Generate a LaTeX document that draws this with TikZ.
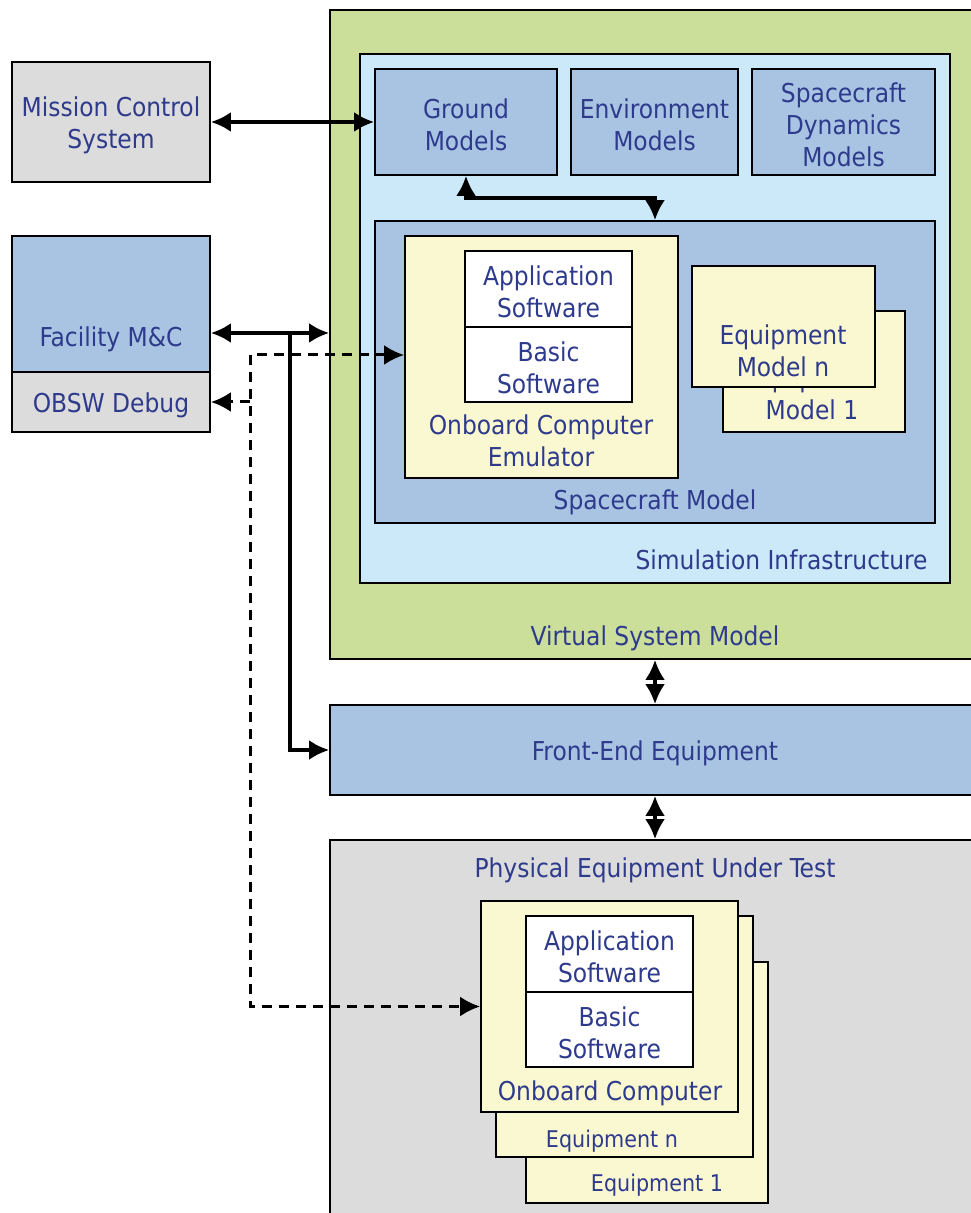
\documentclass[tikz,border=0pt]{standalone}
\usepackage{fontspec}
\setmainfont{DejaVu Sans Condensed}
\usetikzlibrary{arrows.meta,fit}
\definecolor{txtblue}{RGB}{46,58,140}
\definecolor{vsmgreen}{RGB}{204,223,154}
\definecolor{infblue}{RGB}{204,233,250}
\definecolor{midblue}{RGB}{168,196,226}
\definecolor{eqyellow}{RGB}{250,248,208}
\definecolor{boxgrey}{RGB}{220,220,220}

\begin{document}
\begin{tikzpicture}[x=0.5pt,y=-0.5pt,>={Latex[length=10pt,width=10pt]},
 box/.style={draw,line width=0.9pt,inner sep=0pt},
 txt/.style={text=txtblue,align=center,inner sep=0pt,yshift=-1.5pt},
 boxtxt/.style={label={[txt]center:#1}},
 small/.style={font=\fontsize{11.5}{14}\selectfont},
 link/.style={line width=1.7pt},
 dbglink/.style={line width=1.5pt,dash pattern=on 5pt off 3.5pt},
 font=\fontsize{13}{16}\selectfont]
 \useasboundingbox (0,0) rectangle (970,1213);

 % left side
 \node[box,fill=boxgrey,fit={(12,62) (210,182)},boxtxt={Mission Control\\System}] (mcs) {};
 \node[box,fill=midblue,fit={(12,236) (210,372)}] (fac) {};
 \node[box,fill=boxgrey,fit={(12,372) (210,432)},boxtxt={OBSW Debug}] (dbg) {};
 \node[txt] (faclbl) at (111,336) {Facility M\&C};

 % virtual system model
 \node[box,fill=vsmgreen,fit={(330,10) (976,659)}] (vsm) {};
 \node[txt] (vsmlbl) at (655,635) {Virtual System Model};
 \node[box,fill=infblue,fit={(360,54) (950,583)}] (infra) {};
 \node[txt,anchor=east] (infralbl) at (928,557) {Simulation Infrastructure};
 \node[box,fill=midblue,fit={(375,69) (557,175)},boxtxt={Ground\\Models}] (ground) {};
 \node[box,fill=midblue,fit={(571,69) (738,175)},boxtxt={Environment\\Models}] (env) {};
 \node[box,fill=midblue,fit={(752,69) (935,175)},boxtxt={Spacecraft\\Dynamics\\Models}] (dyn) {};
 \node[box,fill=midblue,fit={(375,221) (935,523)}] (scm) {};
 \node[txt] (scmlbl) at (655,499) {Spacecraft Model};
 \node[box,fill=eqyellow,fit={(405,236) (678,478)}] (emu) {};
 \node[txt] (emulbl) at (541,438) {Onboard Computer\\Emulator};
 \node[box,fill=white,fit={(465,251) (632,327)},boxtxt={Application\\Software}] (emuapp) {};
 \node[box,fill=white,fit={(465,327) (632,402)},boxtxt={Basic\\Software}] (emubsw) {};
 \node[box,fill=eqyellow,fit={(723,311) (905,432)}] (eqm1) {};
 \node[txt] (eqm1lbl) at (812,391) {Equipment\\Model 1};
 \node[box,fill=eqyellow,fit={(692,266) (875,387)}] (eqmn) {};
 \node[txt] (eqmnlbl) at (783,348) {Equipment\\Model n};

 % front end and hardware
 \node[box,fill=midblue,fit={(330,705) (976,795)}] (fee) {};
 \node[txt] (feelbl) at (655,750) {Front-End Equipment};
 \node[box,fill=boxgrey,fit={(330,840) (976,1220)}] (peut) {};
 \node[txt] (peutlbl) at (655,867) {Physical Equipment Under Test};
 \node[box,fill=eqyellow,fit={(526,962) (768,1203)}] (eq1) {};
 \node[txt,small] (eq1lbl) at (657,1182) {Equipment 1};
 \node[box,fill=eqyellow,fit={(496,916) (753,1157)}] (eqn) {};
 \node[txt,small] (eqnlbl) at (612,1138) {Equipment n};
 \node[box,fill=eqyellow,fit={(481,901) (738,1112)}] (obc) {};
 \node[txt] (obclbl) at (610,1090) {Onboard Computer};
 \node[box,fill=white,fit={(526,916) (693,992)},boxtxt={Application\\Software}] (obcapp) {};
 \node[box,fill=white,fit={(526,992) (693,1067)},boxtxt={Basic\\Software}] (obcbsw) {};

 \coordinate (tap) at (290,333);
 \coordinate (dbgbus) at (250,355);

 % links
 \draw[link,<->] (mcs) -- (ground);
 \draw[link,<->] (ground.south) -- ++(0,22) -| (scm.north);
 \draw[link,<->] (fac.east |- tap) -- (vsm.west |- tap);
 \draw[link,->] (tap) |- (fee.west);
 \draw[link,<->] (vsm.south -| scm.north) -- (fee.north -| scm.north);
 \draw[link,<->] (fee.south -| scm.north) -- (peut.north -| scm.north);
 \draw[dbglink,<->] (emu.west |- dbgbus) -- (dbgbus) |- (obc.west);
 \draw[dbglink,->] (dbgbus |- dbg.east) -- (dbg.east);
\end{tikzpicture}
\end{document}
